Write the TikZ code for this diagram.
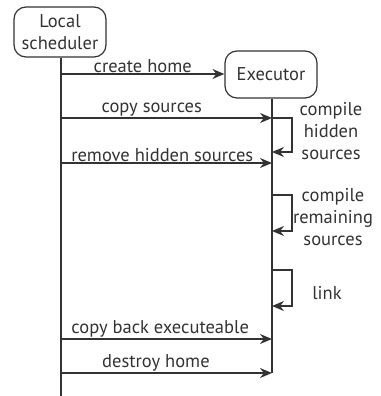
\documentclass[tikz,border=0pt]{standalone}
\usepackage{fontspec}
\setmainfont{PT Sans}
\usetikzlibrary{arrows.meta}
\definecolor{ink}{HTML}{333333}
\begin{document}
\begin{tikzpicture}[x=1pt,y=-1pt,
  every node/.style={font=\fontsize{18.5}{22}\selectfont, text=ink},
  actor/.style={draw=ink, line width=1.2pt, rounded corners=12pt, align=center, inner sep=0pt},
  lifeline/.style={draw=ink, line width=1.4pt},
  msg/.style={draw=ink, line width=1.4pt, -{Stealth[length=12pt,width=10pt]}},
  lbl/.style={align=center, inner sep=1pt}]
\useasboundingbox (0,0) rectangle (380,396);
\node[actor, minimum width=92pt, minimum height=50pt] (ls) at (60,32) {Local\\scheduler};
\node[actor, minimum width=92pt, minimum height=47pt] (ex) at (271,74.5) {Executor};
\coordinate (lsend) at (61,396);
\coordinate (exend) at (272,373);
\draw[lifeline] (ls.south -| lsend) -- (lsend);
\draw[lifeline] (ex.south -| exend) -- (exend);
% messages
\coordinate (m1s) at (61,74);
\draw[msg] (m1s) -- (ex.west |- m1s) node[lbl, pos=0.5, above] {create home};
\coordinate (m2s) at (61,118); \coordinate (m2e) at (272,118);
\draw[msg] (m2s) -- (m2e) node[lbl, pos=0.43, above] {copy sources};
\coordinate (m3s) at (61,163); \coordinate (m3e) at (272,163);
\draw[msg] (m3s) -- (m3e) node[lbl, pos=0.48, above] {remove hidden sources};
\coordinate (m4s) at (61,339); \coordinate (m4e) at (272,339);
\draw[msg] (m4s) -- (m4e) node[lbl, pos=0.47, above] {copy back executeable};
\coordinate (m5s) at (61,373); \coordinate (m5e) at (272,373);
\draw[msg] (m5s) -- (m5e) node[lbl, pos=0.45, above] {destroy home};
% self loops
\coordinate (s1a) at (272,118); \coordinate (s1b) at (272,152);
\draw[msg] (s1a) -- (292,118) -- (292,152) -- (s1b);
\node[lbl] (t1) at (331,131) {compile\\hidden\\sources};
\coordinate (s2a) at (272,195); \coordinate (s2b) at (272,231);
\draw[msg] (s2a) -- (292,195) -- (292,231) -- (s2b);
\node[lbl] (t2) at (333,217) {compile\\remaining\\sources};
\coordinate (s3a) at (272,270); \coordinate (s3b) at (272,306);
\draw[msg] (s3a) -- (292,270) -- (292,306) -- (s3b);
\node[lbl] (t3) at (327,293) {link};
\end{tikzpicture}
\end{document}
